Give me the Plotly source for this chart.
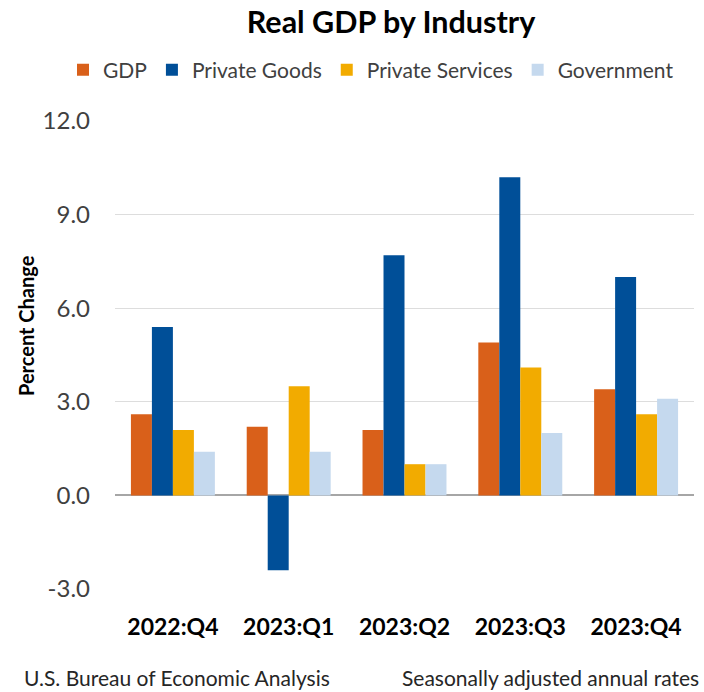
import plotly.graph_objects as go

# Quarterly percent change, seasonally adjusted annual rates
quarters = ["2022:Q4", "2023:Q1", "2023:Q2", "2023:Q3", "2023:Q4"]
gdp = [2.6, 2.2, 2.1, 4.9, 3.4]
private_goods = [5.4, -2.4, 7.7, 10.2, 7.0]
private_services = [2.1, 3.5, 1.0, 4.1, 2.6]
government = [1.4, 1.4, 1.0, 2.0, 3.1]

series = [
    ("GDP", gdp, "#D9601A"),
    ("Private Goods", private_goods, "#004F98"),
    ("Private Services", private_services, "#F2AB00"),
    ("Government", government, "#C5D9EE"),
]

y_ticks = [-3, 0, 3, 6, 9, 12]
boundaries = [i - 0.5 for i in range(len(quarters) + 1)]

FONT = "Lato"
W, H = 704, 692
L, R, T, B = 115, 10, 121, 103
PW, PH = W - L - R, H - T - B


def px_x(x):
    """Pixel column -> paper x."""
    return (x - L) / PW


def px_y(y):
    """Pixel row -> paper y."""
    return (H - B - y) / PH


fig = go.Figure()
for name, values, color in series:
    fig.add_trace(go.Bar(
        x=quarters, y=values, name=name,
        marker=dict(color=color, line=dict(width=0)),
    ))

fig.update_layout(
    width=W, height=H,
    paper_bgcolor="white", plot_bgcolor="white",
    margin=dict(l=L, r=R, t=T, b=B, autoexpand=False),
    barmode="group", bargap=0.275, bargroupgap=0,
    font=dict(family=FONT, color="#404040"),
    title=dict(
        text="<b>Real GDP by Industry</b>",
        font=dict(family=FONT, size=30.5, color="#000000"),
        x=391 / W, xanchor="center", xref="container",
        y=1 - 22 / H, yanchor="middle", yref="container",
    ),
    legend=dict(
        orientation="h",
        xref="paper", yref="paper",
        x=px_x(63), xanchor="left",
        y=px_y(70), yanchor="middle",
        font=dict(family=FONT, size=21, color="#404040"),
        itemwidth=30, tracegroupgap=0,
        traceorder="normal",
    ),
    xaxis=dict(
        type="category",
        categoryorder="array", categoryarray=quarters,
        range=[-0.5, len(quarters) - 0.5],
        showgrid=False, showline=False, ticks="",
        tickfont=dict(family=FONT, size=23, color="#000000", weight="bold"),
        ticklabelstandoff=22,
    ),
    # zero-level axis line with tick marks between quarters
    xaxis2=dict(
        overlaying="x", anchor="free", position=0.2,
        range=[-0.5, len(quarters) - 0.5],
        tickvals=boundaries, ticks="outside", ticklen=8,
        tickcolor="#A6A6A6", showline=True, linecolor="#A6A6A6",
        linewidth=1.5, showticklabels=False, showgrid=False,
        zeroline=False,
    ),
    yaxis=dict(
        range=[-3, 12], tickvals=y_ticks,
        ticktext=[f"{v:.1f}" for v in y_ticks],
        showgrid=True, gridcolor="#DDDDDD", gridwidth=1,
        zeroline=True, zerolinecolor="#A6A6A6", zerolinewidth=1.5,
        showline=False, ticks="",
        tickfont=dict(family=FONT, size=24, color="#404040"),
        ticklabelstandoff=24,
    ),
    annotations=[
        dict(text="<b>Percent Change</b>", textangle=-90,
             xref="paper", yref="paper",
             x=px_x(26), xanchor="center",
             y=px_y(326), yanchor="middle",
             showarrow=False,
             font=dict(family=FONT, size=20, color="#000000")),
        dict(text="U.S. Bureau of Economic Analysis",
             xref="paper", yref="paper",
             x=px_x(22), xanchor="left",
             y=px_y(677), yanchor="middle",
             showarrow=False,
             font=dict(family=FONT, size=21, color="#262626")),
        dict(text="Seasonally adjusted annual rates",
             xref="paper", yref="paper",
             x=px_x(701), xanchor="right",
             y=px_y(677), yanchor="middle",
             showarrow=False,
             font=dict(family=FONT, size=21, color="#262626")),
    ],
)

fig.write_html("out.html")
